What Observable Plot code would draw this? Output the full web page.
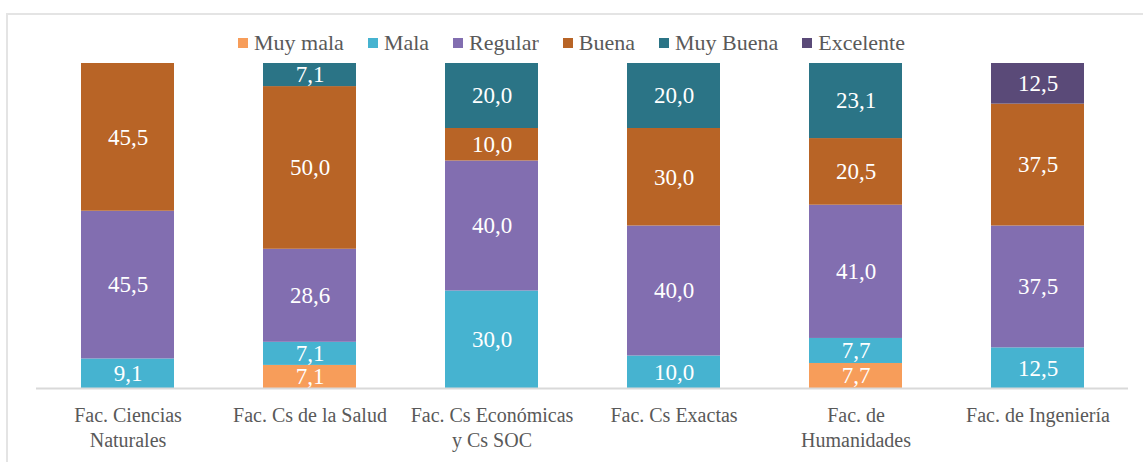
<!DOCTYPE html>
<html>
<head>
<meta charset="utf-8">
<script src="https://cdn.jsdelivr.net/npm/d3@7"></script>
<script src="https://cdn.jsdelivr.net/npm/@observablehq/plot@0.6"></script>
<style>
  html, body { margin: 0; padding: 0; background: #fff; }
  #wrap { position: relative; width: 1143px; height: 462px; overflow: hidden; font-family: "Liberation Serif", serif; }
  #frame { position: absolute; left: 6px; top: 13px; width: 1200px; height: 600px; border-top: 2px solid #e4e4e4; border-left: 2px solid #e4e4e4; }
  #legend { position: absolute; left: 0; top: 31px; width: 1143px; display: flex; justify-content: center; gap: 24px; font-size: 22px; line-height: 24px; color: #595959; }
  #legend .item { display: flex; align-items: center; gap: 6px; }
  #legend .sw { width: 10px; height: 10px; display: inline-block; }
  #chart { position: absolute; left: 0; top: 58px; }
</style>
</head>
<body>
<div id="wrap">
  <div id="frame"></div>
  <div id="legend"></div>
  <div id="chart"></div>
</div>
<script>
const categories = [
  "Fac. Ciencias\nNaturales",
  "Fac. Cs de la Salud",
  "Fac. Cs Económicas\ny Cs SOC",
  "Fac. Cs Exactas",
  "Fac. de\nHumanidades",
  "Fac. de Ingeniería"
];
const series = ["Muy mala", "Mala", "Regular", "Buena", "Muy Buena", "Excelente"];
const colors = ["#F79D5A", "#46B3D0", "#826EB0", "#B86426", "#2B7486", "#5A4A78"];

const muyMala  = [0,   7.1, 0,    0,    7.7,  0];
const mala     = [9.1, 7.1, 30.0, 10.0, 7.7,  12.5];
const regular  = [45.5, 28.6, 40.0, 40.0, 41.0, 37.5];
const buena    = [45.5, 50.0, 10.0, 30.0, 20.5, 37.5];
const muyBuena = [0,   7.1, 20.0, 20.0, 23.1, 0];
const excelente= [0,   0,   0,    0,    0,    12.5];

const seriesValues = [muyMala, mala, regular, buena, muyBuena, excelente];
const data = [];
series.forEach((s, i) => {
  categories.forEach((c, j) => {
    const v = seriesValues[i][j];
    if (v > 0) data.push({category: c, series: s, value: v});
  });
});

// legend
const legend = document.getElementById("legend");
series.forEach((s, i) => {
  const it = document.createElement("div");
  it.className = "item";
  const sw = document.createElement("span");
  sw.className = "sw";
  sw.style.background = colors[i];
  const t = document.createElement("span");
  t.textContent = s;
  it.appendChild(sw); it.appendChild(t);
  legend.appendChild(it);
});

const fmt = v => v.toFixed(1).replace(".", ",");

const plot = Plot.plot({
  width: 1143,
  height: 404,
  marginTop: 5,
  marginBottom: 74,
  marginLeft: 36,
  marginRight: 15,
  style: { fontFamily: "'Liberation Serif', serif", background: "transparent" },
  x: { domain: categories, paddingInner: 0.49, paddingOuter: 0.245, label: null },
  y: { domain: [0, 1], axis: null },
  color: { domain: series, range: colors },
  marks: [
    Plot.barY(data, Plot.stackY({
      x: "category", y: "value", z: "series", fill: "series",
      order: series, offset: "normalize"
    })),
    Plot.text(data, Plot.stackY({
      x: "category", y: "value", z: "series",
      order: series, offset: "normalize",
      text: d => fmt(d.value), fill: "white", fontSize: 23
    })),
    Plot.ruleY([0], { stroke: "#d9d9d9", strokeWidth: 2 }),
    Plot.axisX({ tickSize: 0, tickPadding: 16, fontSize: 20, color: "#595959", label: null, lineHeight: 1.25 })
  ]
});
document.getElementById("chart").appendChild(plot);
</script>
</body>
</html>
